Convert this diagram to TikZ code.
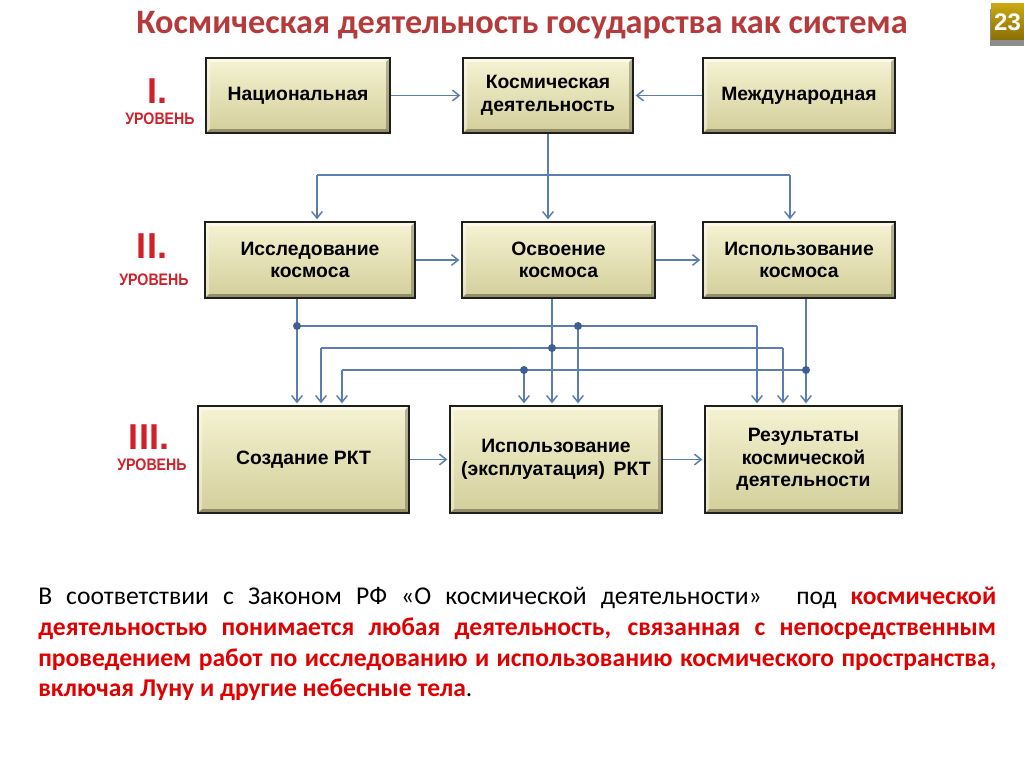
\documentclass[tikz,border=0pt]{standalone}
\usepackage{fontspec}
\setmainfont{Carlito}
\newfontfamily\boxfont{Liberation Sans}
\newfontfamily\narrowfont[FakeStretch=0.85]{Liberation Sans}
\usetikzlibrary{arrows.meta}
\definecolor{titlered}{HTML}{B53A3C}
\definecolor{lvlred}{HTML}{D0202A}
\definecolor{txtred}{HTML}{E00000}
\definecolor{conn}{HTML}{5B7DB0}
\definecolor{dotc}{HTML}{3E5E94}
\definecolor{boxtop}{HTML}{F5F3D3}
\definecolor{boxbot}{HTML}{D3CE9A}
\definecolor{boxedge}{HTML}{1E1E1A}
\definecolor{goldA}{HTML}{C9A812}
\definecolor{goldB}{HTML}{8A6E05}
\begin{document}
\begin{tikzpicture}[x=0.75pt,y=-0.75pt,
  sbox/.style={draw=boxedge, line width=2pt, top color=boxtop, bottom color=boxbot,
    font=\boxfont\bfseries\fontsize{14.5}{17}\selectfont, align=center, inner sep=0pt,
    path picture={
      \fill[white,opacity=0.55] (path picture bounding box.north west) -- (path picture bounding box.north east)
        -- ([shift={(-3pt,-3pt)}]path picture bounding box.north east) -- ([shift={(3pt,-3pt)}]path picture bounding box.north west) -- cycle;
      \fill[white,opacity=0.4] (path picture bounding box.north west) -- (path picture bounding box.south west)
        -- ([shift={(3pt,3pt)}]path picture bounding box.south west) -- ([shift={(3pt,-3pt)}]path picture bounding box.north west) -- cycle;
      \fill[black!70!olive,opacity=0.45] (path picture bounding box.south west) -- (path picture bounding box.south east)
        -- ([shift={(-3pt,3pt)}]path picture bounding box.south east) -- ([shift={(3pt,3pt)}]path picture bounding box.south west) -- cycle;
      \fill[black!70!olive,opacity=0.35] (path picture bounding box.north east) -- (path picture bounding box.south east)
        -- ([shift={(-3pt,3pt)}]path picture bounding box.south east) -- ([shift={(-3pt,-3pt)}]path picture bounding box.north east) -- cycle;
    }},
  wh/.style 2 args={minimum width=#1*0.75pt, minimum height=#2*0.75pt},
  lvlnum/.style={text=lvlred, font=\boxfont\bfseries\fontsize{27}{27}\selectfont, inner sep=0pt},
  lvlword/.style={text=lvlred, font=\narrowfont\bfseries\fontsize{12.5}{13}\selectfont, inner sep=0pt},
  line/.style={conn, line width=1.1pt},
  arr/.style={conn, line width=1.1pt, -{Straight Barb[length=5pt,width=8pt]}, shorten >=1pt},
  dot/.style={fill=dotc}
]
\useasboundingbox[fill=white] (0,0) rectangle (1024,767);

% title
\node[text=titlered, font=\bfseries\fontsize{25.7}{28}\selectfont, inner sep=0pt] (title) at (522,25)
  {Космическая деятельность государства как система};

% page number
\fill[black!45] (990,9) rectangle (1024,46);
\node[top color=goldA, bottom color=goldB, minimum width=33*0.75pt, minimum height=36*0.75pt,
  inner sep=0pt, text=white, font=\boxfont\bfseries\fontsize{18}{18}\selectfont] (pg) at (1007.5,22) {23};

% level labels
\node[lvlnum] (l1) at (157,91) {I.};
\node[lvlword] (w1) at (160,119) {УРОВЕНЬ};
\node[lvlnum] (l2) at (152,246) {II.};
\node[lvlword] (w2) at (154,280) {УРОВЕНЬ};
\node[lvlnum] (l3) at (149,437) {III.};
\node[lvlword] (w3) at (152,465) {УРОВЕНЬ};

% level I
\node[sbox, wh={184}{75}] (nat) at (298,95.5) {Национальная};
\node[sbox, wh={170}{75}] (kd) at (548,95.5) {Космическая\\деятельность};
\node[sbox, wh={192}{75}] (mezh) at (799,95.5) {Международная};
% level II
\node[sbox, wh={210}{76}] (issl) at (310,260) {Исследование\\космоса};
\node[sbox, wh={193}{76}] (osv) at (558.5,260) {Освоение\\космоса};
\node[sbox, wh={192}{76}] (ispII) at (799,260) {Использование\\космоса};
% level III
\node[sbox, wh={211}{107}] (sozd) at (303.5,459.5) {Создание РКТ};
\node[sbox, wh={212}{107}] (ekspl) at (556,459.5) {Использование\\(эксплуатация)\, РКТ};
\node[sbox, wh={197}{107}] (rez) at (803.5,459.5) {Результаты\\космической\\деятельности};

% horizontal arrows
\draw[arr] (nat.east) -- (kd.west);
\draw[arr] (mezh.west) -- (kd.east);
\draw[arr] (issl.east) -- (osv.west);
\draw[arr] (osv.east) -- (ispII.west);
\draw[arr] (sozd.east) -- (ekspl.west);
\draw[arr] (ekspl.east) -- (rez.west);

% from level I to level II
\coordinate (kdJ) at (548,175);
\coordinate (hL) at (317,175);
\coordinate (hR) at (790,175);
\draw[line] (kd.south) -- (kdJ);
\draw[line] (hL) -- (hR);
\draw[arr] (hL) -- (hL |- issl.north);
\draw[arr] (kdJ) -- (kdJ |- osv.north);
\draw[arr] (hR) -- (hR |- ispII.north);

% line A from issl
\coordinate (a0) at (297,326);
\coordinate (a1) at (578,326);
\coordinate (a2) at (757,326);
\draw[arr] (a0 |- issl.south) -- (a0 |- sozd.north);
\draw[line] (a0) -- (a2);
\draw[arr] (a1) -- (a1 |- ekspl.north);
\draw[arr] (a2) -- (a2 |- rez.north);

% line B from osv
\coordinate (b0) at (552,348);
\coordinate (b1) at (321,348);
\coordinate (b2) at (783,348);
\draw[arr] (b0 |- osv.south) -- (b0 |- ekspl.north);
\draw[line] (b1) -- (b2);
\draw[arr] (b1) -- (b1 |- sozd.north);
\draw[arr] (b2) -- (b2 |- rez.north);

% line C from ispII
\coordinate (c0) at (806,370);
\coordinate (c1) at (342,370);
\coordinate (c2) at (524,370);
\draw[arr] (c0 |- ispII.south) -- (c0 |- rez.north);
\draw[line] (c1) -- (c0);
\draw[arr] (c1) -- (c1 |- sozd.north);
\draw[arr] (c2) -- (c2 |- ekspl.north);

% junction dots
\foreach \p in {a0,a1,b0,c0,c2} \fill[dot] (\p) circle (3pt);

% paragraph
\node[anchor=north west, text width=718.5pt, align=justify, inner sep=0pt,
  font=\fontsize{19.2}{23}\selectfont] (para) at (38,587)
  {В соответствии с Законом РФ «О космической деятельности»\hspace{0.8em} под {\color{txtred}\bfseries космической\linebreak
   деятельностью понимается любая деятельность, связанная с непосредственным\linebreak
   проведением работ по исследованию и использованию космического пространства,\linebreak
   включая Луну и другие небесные тела}.};
\end{tikzpicture}
\end{document}
